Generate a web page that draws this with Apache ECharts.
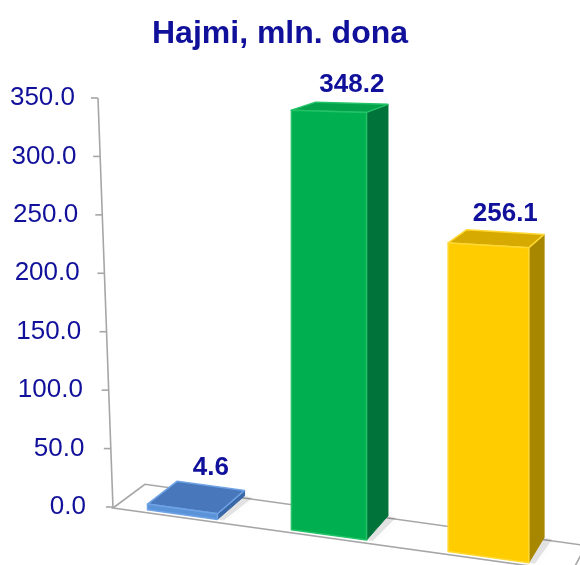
<!DOCTYPE html>
<html>
<head>
<meta charset="utf-8">
<script src="https://cdn.jsdelivr.net/npm/echarts@6/dist/echarts.min.js"></script>
<style>
    html, body { margin: 0; padding: 0; background: #fff; }
    #chart { width: 580px; height: 565px; }
</style>
</head>
<body>
<div id="chart"></div>
<script>
// data
var categories = ['1', '2', '3'];
var values = [4.6, 348.2, 256.1];
var yTicks = [0, 50, 100, 150, 200, 250, 300, 350];

// bar colours: front, top, side
var palette = [
    { front: '#5b93d9', top: '#4878bb', side: '#3a67a5', edge: '#6fa3e6' },
    { front: '#00b050', top: '#04a24a', side: '#00733a', edge: '#22c266' },
    { front: '#ffcc00', top: '#d6aa00', side: '#a88700', edge: '#ffd832' }
];
var textColor = '#10109a';
var fontName = '"Liberation Sans", Arial, sans-serif';

// fake 3d: depth goes toward a vanishing point, front lines slope down to the right
var VP = [930, -100];
var DEPTH = 0.038;         // bar depth, as fraction of way to VP
var FLOOR_DEPTH = 0.039;
var SLOPE = 0.139;         // slope of the floor front line
var HORIZON = 535;         // px above floor where front lines get flat
var FRONT_SCALE = 1.031;   // front plane is closer than the wall axis
var AXIS_LEAN = 15;        // wall axis leans left going up
var X_WARP = 58.6;         // bars spread a bit more to the right (perspective)

const back = function (p, f) {
    return [p[0] + (VP[0] - p[0]) * f, p[1] + (VP[1] - p[1]) * f];
};

const renderFrame = function (params, api) {
    var cs = params.coordSys;
    var y0 = api.coord([0, 0])[1];
    var fl = [cs.x + 7, y0 + 1];
    var fr = [cs.x + cs.width + 7, y0 + 1 + SLOPE * cs.width];
    var bl = back(fl, FLOOR_DEPTH), br = back(fr, FLOOR_DEPTH);
    var lineStyle = { stroke: '#a6a6a6', lineWidth: 1.6, fill: null };
    var children = [{
        type: 'polygon',
        shape: { points: [fl, bl, br, fr] },
        style: lineStyle
    }];
    var yTop = api.coord([0, yTicks[yTicks.length - 1]])[1];
    children.push({
        type: 'line',
        shape: { x1: fl[0], y1: fl[1], x2: fl[0] - AXIS_LEAN, y2: yTop },
        style: lineStyle
    });
    yTicks.forEach(function (t) {
        var y = api.coord([0, t])[1];
        var x = fl[0] - AXIS_LEAN * (fl[1] - y) / (fl[1] - yTop);
        children.push({
            type: 'line',
            shape: { x1: x - 7, y1: y, x2: x, y2: y },
            style: lineStyle
        });
    });
    return { type: 'group', children: children };
};

const renderBar = function (params, api) {
    var cs = params.coordSys;
    var i = api.value(0), v = api.value(1);
    var c0 = api.coord([i, 0]);
    var xc = c0[0], y0 = c0[1];
    var u = (xc - cs.x) / cs.width;
    xc += X_WARP * (u - 1 / 6) * (u - 5 / 6);
    var band = api.size([1, 0])[0];
    var unit = api.size([0, 1])[1];
    var col = palette[i];
    var w = band * 0.4575 * (1 + (xc - cs.x - 76) / 2000);
    var baseY = function (x) { return y0 + 3 + SLOPE * (x - cs.x - 44); };
    var h = v * unit * FRONT_SCALE;
    var xL = xc - w / 2, xR = xc + w / 2;
    var fbl = [xL, baseY(xL)], fbr = [xR, baseY(xR)];
    var ftl = [xL, fbl[1] - h];
    var ftr = [xR, ftl[1] + SLOPE * (1 - h / HORIZON) * w];
    var btl = back(ftl, DEPTH), btr = back(ftr, DEPTH), bbr = back(fbr, DEPTH);
    var labelX = (btl[0] + btr[0]) / 2, labelY = (btl[1] + btr[1]) / 2 - 18;
    return {
        type: 'group',
        children: [
            {
                type: 'polygon',
                shape: { points: [fbr, bbr, [bbr[0] + 8, bbr[1] + 2], [fbr[0] + 6, fbr[1] + 1]] },
                style: { fill: 'rgba(0,0,0,0.10)', shadowBlur: 8, shadowColor: 'rgba(0,0,0,0.35)' }
            },
            {
                type: 'polygon',
                shape: { points: [fbr, ftr, btr, bbr] },
                style: { fill: col.side, stroke: col.side, lineWidth: 1, lineJoin: 'round' }
            },
            {
                type: 'polygon',
                shape: { points: [ftl, ftr, btr, btl] },
                style: { fill: col.top, stroke: col.edge, lineWidth: 1.5, lineJoin: 'round' }
            },
            {
                type: 'polygon',
                shape: { points: [fbl, fbr, ftr, ftl] },
                style: { fill: col.front, stroke: col.edge, lineWidth: 1.5, lineJoin: 'round' }
            },
            {
                type: 'text',
                x: labelX,
                y: labelY,
                style: {
                    text: v.toFixed(1),
                    fill: textColor,
                    font: 'bold 26px ' + fontName,
                    align: 'center',
                    verticalAlign: 'middle'
                }
            }
        ]
    };
};

var labelRich = {};
yTicks.forEach(function (t) {
    labelRich['t' + t] = {
        fontSize: 26,
        fontFamily: fontName,
        color: textColor,
        padding: [0, 11 * t / 350, 0, 0]
    };
});

var chart = echarts.init(document.getElementById('chart'));
chart.setOption({
    animation: false,
    title: {
        text: 'Hajmi, mln. dona',
        left: 275,
        textAlign: 'center',
        top: 13,
        textStyle: { fontSize: 32, fontWeight: 'bold', color: textColor, fontFamily: fontName }
    },
    grid: { left: 106, right: 15, top: 98, bottom: 58, containLabel: false },
    xAxis: { type: 'category', data: categories, show: false },
    yAxis: {
        type: 'value',
        min: 0,
        max: 350,
        interval: 50,
        axisLine: { show: false },
        axisTick: { show: false },
        splitLine: { show: false },
        axisLabel: {
            margin: 20,
            fontSize: 26,
            fontFamily: fontName,
            color: textColor,
            formatter: function (v) {
                return '{t' + v + '|' + v.toFixed(1) + '}';
            },
            rich: labelRich
        }
    },
    series: [
        {
            type: 'custom',
            z: 1,
            clip: false,
            silent: true,
            renderItem: renderFrame,
            data: [[0, 0]]
        },
        {
            type: 'custom',
            z: 2,
            clip: false,
            renderItem: renderBar,
            encode: { x: 0, y: 1 },
            data: values.map(function (v, i) { return [i, v]; })
        }
    ]
});
</script>
</body>
</html>
